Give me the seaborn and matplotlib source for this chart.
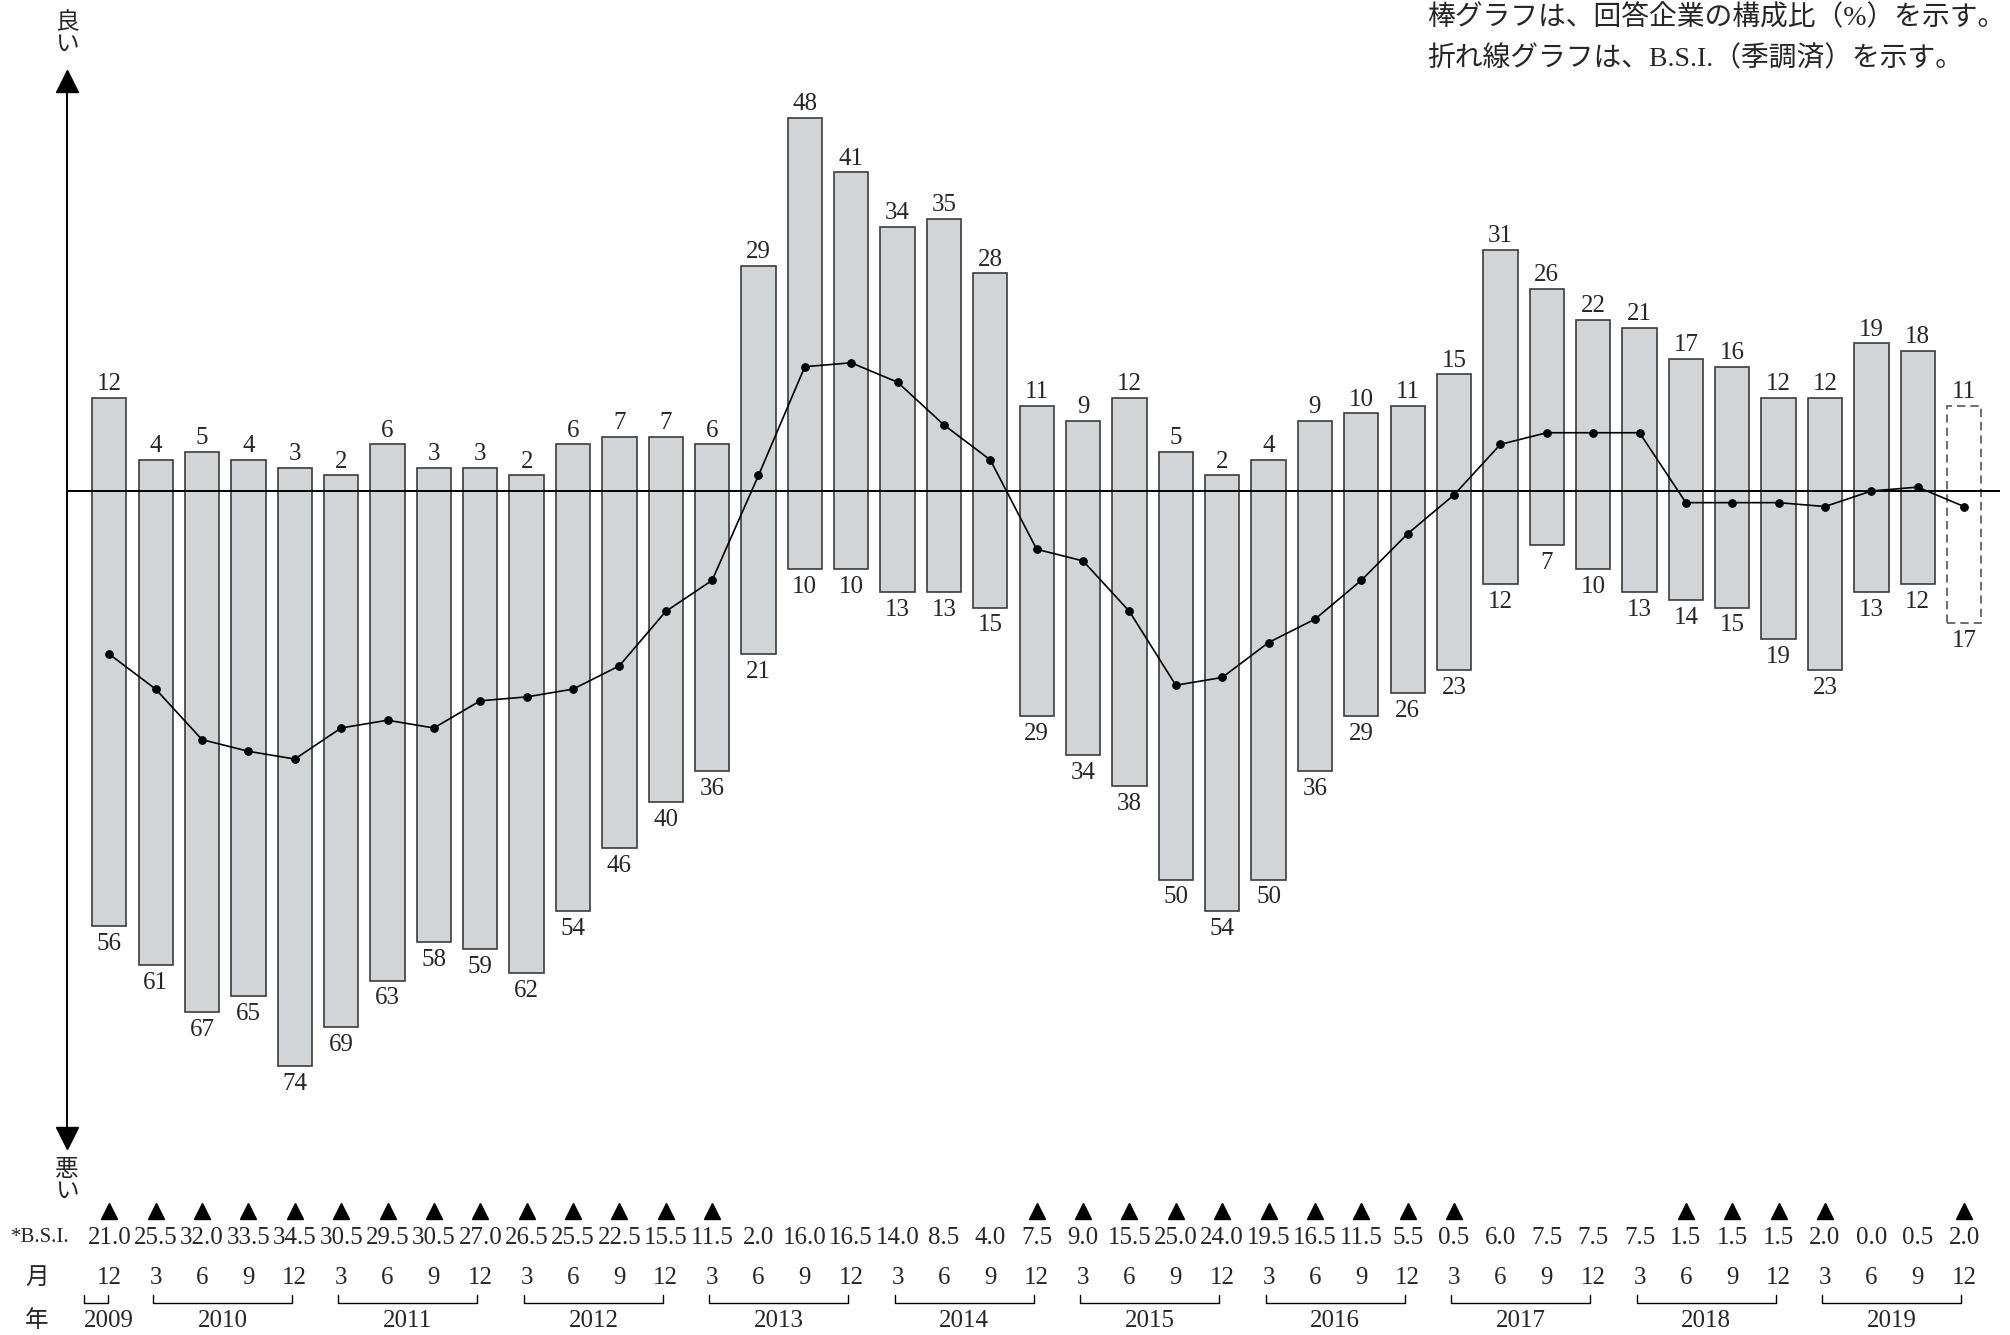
import numpy as np
import matplotlib
matplotlib.use('Agg')
import matplotlib.pyplot as plt
import matplotlib.transforms as mtransforms
import seaborn as sns

# 回答企業の構成比（%）: 上昇(良い) / 下降(悪い)
good = [12, 4, 5, 4, 3, 2, 6, 3, 3, 2, 6, 7, 7, 6, 29, 48, 41, 34, 35, 28, 11,
        9, 12, 5, 2, 4, 9, 10, 11, 15, 31, 26, 22, 21, 17, 16, 12, 12, 19, 18, 11]
bad = [56, 61, 67, 65, 74, 69, 63, 58, 59, 62, 54, 46, 40, 36, 21, 10, 10, 13, 13, 15, 29,
       34, 38, 50, 54, 50, 36, 29, 26, 23, 12, 7, 10, 13, 14, 15, 19, 23, 13, 12, 17]
# B.S.I.（季調済）
bsi = [-21.0, -25.5, -32.0, -33.5, -34.5, -30.5, -29.5, -30.5, -27.0, -26.5, -25.5,
       -22.5, -15.5, -11.5, 2.0, 16.0, 16.5, 14.0, 8.5, 4.0, -7.5, -9.0, -15.5, -25.0,
       -24.0, -19.5, -16.5, -11.5, -5.5, -0.5, 6.0, 7.5, 7.5, 7.5, -1.5, -1.5, -1.5,
       -2.0, 0.0, 0.5, -2.0]
months = [12, 3, 6, 9, 12, 3, 6, 9, 12, 3, 6, 9, 12, 3, 6, 9, 12, 3, 6, 9, 12,
          3, 6, 9, 12, 3, 6, 9, 12, 3, 6, 9, 12, 3, 6, 9, 12, 3, 6, 9, 12]
years = ['2009', '2010', '2011', '2012', '2013', '2014', '2015', '2016', '2017', '2018', '2019']
# 各年の最初と最後の四半期の位置
year_span = [(0, 0), (1, 4), (5, 8), (9, 12), (13, 16), (17, 20), (21, 24),
             (25, 28), (29, 32), (33, 36), (37, 40)]

W, H = 2010, 1335


def fx(px):
    return px / W


def fy(py):
    return 1 - py / H


sns.set_theme(style='white')
plt.rcParams['font.family'] = ['Liberation Serif', 'Noto Sans CJK JP', 'DejaVu Sans']

fig = plt.figure(figsize=(W / 100, H / 100), dpi=100)
ax = fig.add_axes([fx(67), fy(1150), fx(2000) - fx(67), fy(70) - fy(1150)])

x = np.arange(len(good))
g = np.array(good)
b = np.array(bad)

# 棒グラフ（最後は見通し、破線）
ax.bar(x[:-1], g[:-1] + b[:-1], bottom=-b[:-1], width=0.74,
       color='#d3d4d6', edgecolor='#3c3c3c', linewidth=1.2, zorder=1)
ax.bar(x[-1:], g[-1:] + b[-1:], bottom=-b[-1:], width=0.74,
       fill=False, edgecolor='#555555', linestyle=(0, (5, 3)), linewidth=1.2, zorder=1)

ax.axhline(0, color='black', lw=1.4, zorder=2)

# 折れ線（B.S.I.）
sns.lineplot(x=x, y=bsi, ax=ax, color='black', lw=1.2, marker='o',
             markersize=5.5, markeredgecolor='black', zorder=3)

for i in x:
    ax.annotate(str(good[i]), (i, good[i]), xytext=(0, 2), textcoords='offset points',
                ha='center', va='bottom', fontsize=18)
    ax.annotate(str(bad[i]), (i, -bad[i]), xytext=(0, -5), textcoords='offset points',
                ha='center', va='top', fontsize=18)

ax.set_xlim(-(109.3 - 67) / 46.37, (2000 - 109.3) / 46.37)
ax.set_ylim(-(1150 - 491) / 7.77, (491 - 70) / 7.77)
ax.axis('off')

# 縦軸の矢印
ax.plot([fx(67), fx(67)], [fy(90), fy(1140)], color='black', lw=1.4,
        transform=fig.transFigure, clip_on=False)
ax.plot([fx(67)], [fy(81)], marker='^', ms=16, color='black',
        transform=fig.transFigure, clip_on=False)
ax.plot([fx(67)], [fy(1138)], marker='v', ms=16, color='black',
        transform=fig.transFigure, clip_on=False)
fig.text(fx(67), fy(34), '良\nい', ha='center', va='center', fontsize=17, linespacing=1.05)
fig.text(fx(67), fy(1181), '悪\nい', ha='center', va='center', fontsize=17, linespacing=1.05)

# 注記
fig.text(fx(1427), fy(18), '棒グラフは、回答企業の構成比（%）を示す。', ha='left', va='center', fontsize=20)
fig.text(fx(1427), fy(59), '折れ線グラフは、B.S.I.（季調済）を示す。', ha='left', va='center', fontsize=20)

# 下部の表
trans = mtransforms.blended_transform_factory(ax.transData, fig.transFigure)
neg = np.array(bsi) < 0
ax.plot(x[neg], np.full(neg.sum(), fy(1211)), linestyle='none', marker='^', ms=12,
        color='black', transform=trans, clip_on=False)
for i in x:
    ax.text(i, fy(1238), f'{abs(bsi[i]):.1f}', ha='center', va='center', fontsize=18,
            transform=trans)
    ax.text(i, fy(1278), str(months[i]), ha='center', va='center', fontsize=18,
            transform=trans)

for yr, (s, e) in zip(years, year_span):
    left = s - 0.06 if s != e else -0.55
    right = e - 0.06 if s != e else -0.02
    ax.plot([left, left, right, right], [fy(1295), fy(1303), fy(1303), fy(1295)],
            color='black', lw=1.0, transform=trans, clip_on=False)
    ax.text((left + right) / 2 if s != e else 0, fy(1321), yr, ha='center', va='center',
            fontsize=18, transform=trans)

fig.text(fx(40), fy(1238), '*B.S.I.', ha='center', va='center', fontsize=15)
fig.text(fx(37), fy(1278), '月', ha='center', va='center', fontsize=17)
fig.text(fx(37), fy(1321), '年', ha='center', va='center', fontsize=17)

fig.savefig('out.png', dpi=100)
